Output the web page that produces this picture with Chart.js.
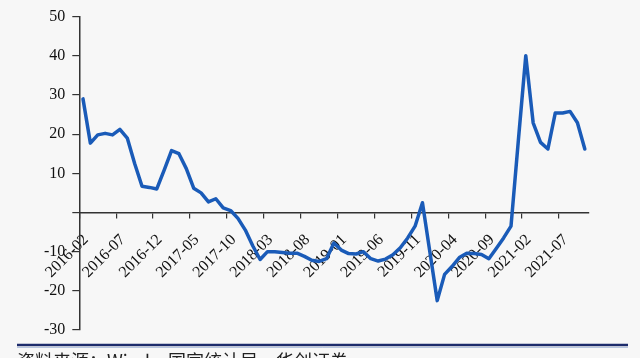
<!DOCTYPE html>
<html>
<head>
<meta charset="utf-8">
<script src="https://cdn.jsdelivr.net/npm/chart.js@4.4.1/dist/chart.umd.min.js"></script>
<style>
  html, body { margin: 0; padding: 0; background: #f7f7f7; }
  #wrap { width: 640px; height: 358px; position: relative; }
</style>
</head>
<body>
<div id="wrap"><canvas id="c" width="640" height="358"></canvas></div>
<script>
const categories = [
  "2016-02","2016-03","2016-04","2016-05","2016-06","2016-07","2016-08","2016-09","2016-10","2016-11","2016-12",
  "2017-01","2017-02","2017-03","2017-04","2017-05","2017-06","2017-07","2017-08","2017-09","2017-10","2017-11","2017-12",
  "2018-01","2018-02","2018-03","2018-04","2018-05","2018-06","2018-07","2018-08","2018-09","2018-10","2018-11","2018-12",
  "2019-01","2019-02","2019-03","2019-04","2019-05","2019-06","2019-07","2019-08","2019-09","2019-10","2019-11","2019-12",
  "2020-01","2020-02","2020-03","2020-04","2020-05","2020-06","2020-07","2020-08","2020-09","2020-10","2020-11","2020-12",
  "2021-01","2021-02","2021-03","2021-04","2021-05","2021-06","2021-07","2021-08","2021-09","2021-10"
];
const seriesValues = [
  29, 17.7, 19.8, 20.2, 19.8, 21.2, 19, 12.5, 6.7, 6.4, 6.0,
  10.8, 15.8, 15, 11.2, 6.2, 5.0, 2.7, 3.5, 1.2, 0.5, -1.5, -4.5,
  -8.5, -12, -10, -10, -10.2, -10.4, -10.4, -11.2, -12.2, -12.5, -11.8, -7.8,
  -9.6, -10.5, -10.6, -10, -11.8, -12.4, -11.9, -10.8, -9, -6.5, -3.5, 2.5,
  -10, -22.5, -15.8, -13.8, -11.5, -10.4, -10.5, -10.7, -11.8, -9.2, -6.5, -3.5,
  18.5, 40, 22.9, 17.9, 16.2, 25.4, 25.4, 25.8, 22.9, 16.2
];
const xTickLabels = ["2016-02","2016-07","2016-12","2017-05","2017-10","2018-03","2018-08","2019-01","2019-06","2019-11","2020-04","2020-09","2021-02","2021-07"];
const yTicks = [-30, -20, -10, 0, 10, 20, 30, 40, 50];
const yTickLabels = ["-30", "-20", "-10", "", "10", "20", "30", "40", "50"];
const sourceText = "资料来源：Wind，国家统计局，华创证券";

const decor = {
  id: 'decor',
  beforeDraw(chart) {
    const ctx = chart.ctx;
    ctx.save();
    ctx.fillStyle = '#f7f7f7';
    ctx.fillRect(0, 0, chart.width, chart.height);
    ctx.restore();
  },
  afterDraw(chart) {
    const ctx = chart.ctx;
    ctx.save();
    ctx.strokeStyle = '#1d2c6c';
    ctx.lineWidth = 2.5;
    ctx.beginPath();
    ctx.moveTo(17, 345);
    ctx.lineTo(628, 345);
    ctx.stroke();
    ctx.strokeStyle = 'rgba(120,150,200,0.5)';
    ctx.lineWidth = 1;
    ctx.beginPath();
    ctx.moveTo(17, 347.5);
    ctx.lineTo(628, 347.5);
    ctx.stroke();
    ctx.fillStyle = '#222';
    ctx.font = '18px "Noto Sans CJK SC"';
    ctx.textBaseline = 'top';
    ctx.textAlign = 'left';
    ctx.fillText(sourceText, 17, 352);
    ctx.restore();
  }
};

new Chart(document.getElementById('c'), {
  type: 'line',
  data: {
    labels: categories,
    datasets: [{
      data: seriesValues,
      borderColor: '#1a5bb8',
      borderWidth: 3.5,
      pointRadius: 0,
      tension: 0,
      fill: false,
      borderJoinStyle: 'round',
      borderCapStyle: 'round'
    }]
  },
  options: {
    responsive: false,
    animation: false,
    layout: { padding: { left: 0, right: 51.5, top: 10, bottom: 28 } },
    plugins: { legend: { display: false }, tooltip: { enabled: false } },
    scales: {
      x: {
        type: 'category',
        position: { y: 0 },
        offset: true,
        grid: {
          offset: true,
          drawOnChartArea: false,
          drawTicks: true,
          tickLength: 5,
          lineWidth: 1.2,
          color: (c) => (c.index % 5 === 0 && c.index < categories.length) ? '#333' : 'rgba(0,0,0,0)'
        },
        border: { display: true, color: '#333', width: 1.5 },
        ticks: {
          autoSkip: false,
          minRotation: 45,
          maxRotation: 45,
          padding: 13,
          labelOffset: 3,
          color: '#111',
          font: { family: '"Liberation Serif"', size: 16 },
          callback: function(v, i) {
            const l = categories[i];
            return xTickLabels.includes(l) ? l : '';
          }
        }
      },
      y: {
        min: -30,
        max: 50,
        afterFit: (s) => { s.width = 79.3; },
        afterBuildTicks: (s) => { s.ticks = yTicks.map(v => ({ value: v })); },
        grid: {
          drawOnChartArea: false,
          drawTicks: true,
          tickLength: 7,
          lineWidth: 1.2,
          color: '#333'
        },
        border: { display: true, color: '#333', width: 1.5 },
        ticks: {
          padding: 7,
          color: '#111',
          font: { family: '"Liberation Serif"', size: 16 },
          callback: (v) => yTickLabels[yTicks.indexOf(v)]
        }
      }
    }
  },
  plugins: [decor]
});
</script>
</body>
</html>
